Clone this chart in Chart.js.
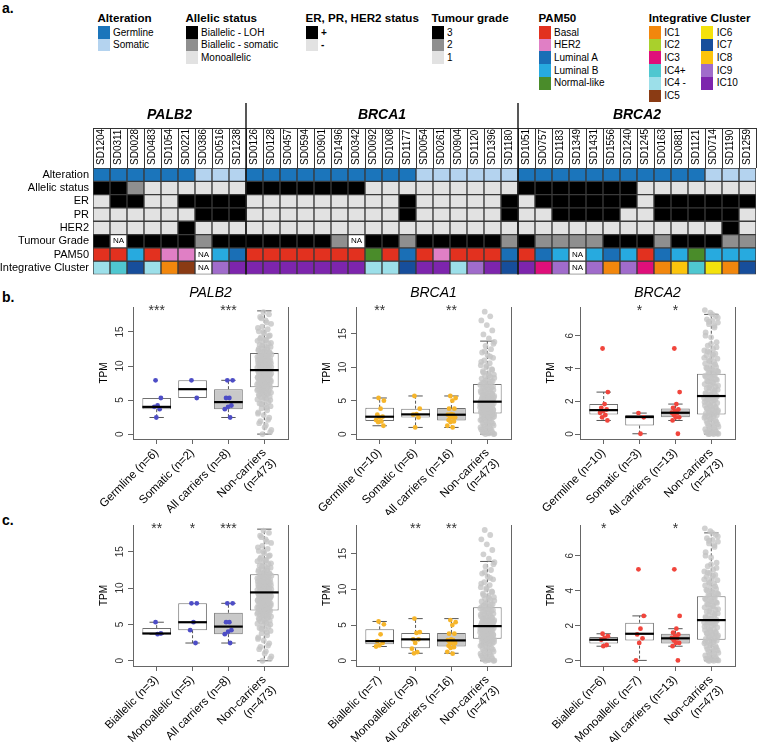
<!DOCTYPE html>
<html><head><meta charset="utf-8">
<script src="https://cdn.jsdelivr.net/npm/chart.js@4.4.1/dist/chart.umd.min.js"></script>
<style>
html,body{margin:0;padding:0;background:#fff}
#page{position:relative;width:758px;height:742px;overflow:hidden;font-family:"Liberation Sans",Arial,Helvetica,sans-serif;color:#000}
canvas{position:absolute}
.t{position:absolute;white-space:nowrap;line-height:1}
.sw{position:absolute}
</style></head><body><div id="page"></div>
<script>
// ================= DATA =================
// --- panel a: heatmap ---
const samples = ['SD1204','SD0311','SD0028','SD0483','SD1054','SD0221','SD0386','SD0516','SD1238',
  'SD0126','SD0128','SD0457','SD0594','SD0901','SD1496','SD0342','SD0092','SD1008','SD1177','SD0054','SD0261','SD0904','SD1120','SD1396','SD1180',
  'SD1051','SD0757','SD1183','SD1349','SD1431','SD1556','SD1240','SD1245','SD0163','SD0881','SD1121','SD0714','SD1190','SD1259'];
const geneGroups = ['PALB2','BRCA1','BRCA2'];
const groupSizes = [9,16,14];
const rowNames = ['Alteration','Allelic status','ER','PR','HER2','Tumour Grade','PAM50','Integrative Cluster'];
const alteration = ('GGGGGGSSS'+'GGGGGGGGGGSSSSSS'+'GGGGGGGGGGGSSS').split('');
const allelic    = ('LLSMMMMMM'+'LLLLLLLMMMMMMMMM'+'LLLLLLLMMMMMMM').split('');
const er         = ('-++--++++'+'---------+-----+'+'-++++++-++++++').split('');
const pr         = ('------+++'+'---------+-----+'+'--++++--+++++-').split('');
const her2       = ('-----+---'+'----------------'+'------------+-').split('');
const grade = ['3','NA','3','3','3','3','2','3','3',
  '3','3','3','3','3','2','NA','3','3','2','3','3','3','3','3','2',
  '3','2','2','2','2','3','3','3','2','3','3','3','2','2'];
const pam50 = ['Basal','Basal','LumB','Basal','HER2','HER2','NA','LumB','LumA',
  'Basal','Basal','Basal','Basal','Basal','Basal','Basal','Normal','Basal','LumA','Basal','HER2','Basal','Basal','Basal','LumA',
  'Basal','LumA','LumB','NA','LumB','LumA','LumB','Basal','LumA','LumB','Normal','LumB','LumB','LumB'];
const icluster = ['IC4-','IC4+','IC7','IC4-','IC1','IC5','NA','IC9','IC10',
  'IC10','IC10','IC10','IC10','IC10','IC10','IC10','IC4-','IC4-','IC7','IC10','IC10','IC4-','IC9','IC10','IC7',
  'IC10','IC3','IC9','NA','IC9','IC1','IC9','IC3','IC1','IC8','IC4+','IC6','IC1','IC7'];

// --- panels b/c: box plots ---
const yTicksLarge = [0,5,10,15];
const yTicksSmall = [0,2,4,6];
const yRangePALB2 = [-0.72,18.67];
const yRangeBRCA1 = [-0.73,19.0];
const yRangeBRCA2 = [-0.3,7.75];

const labelsB_PALB2 = ['Germline (n=6)','Somatic (n=2)','All carriers (n=8)',['Non-carriers','(n=473)']];
const labelsB_BRCA1 = ['Germline (n=10)','Somatic (n=6)','All carriers (n=16)',['Non-carriers','(n=473)']];
const labelsB_BRCA2 = ['Germline (n=10)','Somatic (n=3)','All carriers (n=13)',['Non-carriers','(n=473)']];
const labelsC_PALB2 = ['Biallelic (n=3)','Monoallelic (n=5)','All carriers (n=8)',['Non-carriers','(n=473)']];
const labelsC_BRCA1 = ['Biallelic (n=7)','Monoallelic (n=9)','All carriers (n=16)',['Non-carriers','(n=473)']];
const labelsC_BRCA2 = ['Biallelic (n=6)','Monoallelic (n=7)','All carriers (n=13)',['Non-carriers','(n=473)']];

const starsB_PALB2 = ['***','','***',''];
const starsB_BRCA1 = ['**','','**',''];
const starsB_BRCA2 = ['','*','*',''];
const starsC_PALB2 = ['**','*','***',''];
const starsC_BRCA1 = ['','**','**',''];
const starsC_BRCA2 = ['*','','*',''];

// carrier TPM values
const palb2Germline = [7.9,5.3,4.2,4.0,3.66,2.44];
const palb2Somatic = [7.9,5.3];
const palb2Biallelic = [5.3,3.75,3.66];
const palb2Monoallelic = [7.9,7.9,5.3,4.2,2.44];
const palb2All = [7.9,7.9,5.3,5.3,4.2,4.0,3.66,2.44];
const brca1Germline = [5.4,5.0,3.8,2.9,2.6,2.5,2.1,1.9,1.8,1.25];
const brca1Somatic = [5.7,3.8,3.0,2.9,2.5,1.0];
const brca1Biallelic = [5.5,5.1,3.7,2.75,2.5,2.15,2.0];
const brca1Monoallelic = [5.9,4.0,3.9,3.0,3.0,2.5,1.7,1.2,1.05];
const brca1All = [5.7,5.4,5.0,3.8,3.8,3.0,2.9,2.9,2.6,2.5,2.5,2.1,1.9,1.8,1.25,1.0];
const brca2Germline = [5.22,2.56,1.83,1.6,1.5,1.4,1.3,1.16,1.02,0.83];
const brca2Somatic = [1.28,1.02,0.02];
const brca2Biallelic = [1.54,1.4,1.3,1.2,0.9,0.83];
const brca2Monoallelic = [5.22,2.56,1.83,1.5,1.28,1.02,0.02];
const brca2All = [5.22,2.56,1.83,1.6,1.5,1.4,1.3,1.28,1.16,1.02,1.02,0.83,0.02];

// non-carrier TPM values (read from the point clouds)
const palb2NonCarriers = [0.0,0.6,1.3,1.9,2.4,2.8,3.2,3.5,3.8,4.1,4.3,4.5,4.7,4.9,5.1,5.2,5.4,5.5,5.7,5.8,5.9,6.0,6.1,6.2,6.3,6.4,6.5,6.6,6.7,6.8,6.85,6.9,7.0,7.1,7.2,7.3,7.4,7.45,7.5,7.6,7.7,7.8,7.85,7.9,8.0,8.1,8.2,8.25,8.3,8.4,8.5,8.55,8.6,8.7,8.8,8.85,8.9,9.0,9.05,9.1,9.2,9.25,9.3,9.35,9.4,9.45,9.5,9.6,9.7,9.75,9.8,9.9,10.0,10.1,10.2,10.25,10.3,10.4,10.5,10.6,10.7,10.8,10.9,11.0,11.1,11.2,11.3,11.4,11.5,11.6,11.7,11.8,11.9,12.0,12.1,12.3,12.4,12.6,12.8,12.9,13.1,13.3,13.5,13.7,13.9,14.2,14.5,14.8,15.1,15.4,15.8,16.2,16.7,17.2,17.6,17.9,
  3.0,3.9,4.4,5.0,5.35,5.65,6.05,6.25,6.45,6.75,6.95,7.05,7.15,7.25,7.35,7.55,7.65,7.75,7.95,8.05,8.15,8.35,8.45,8.65,8.75,8.95,9.15,9.55,9.65,9.85,9.95,10.05,10.15,10.35,10.45,10.55,10.65,10.75,10.85,10.95,11.05,11.25,11.35,11.55,11.75,11.95,12.2,12.5,12.7,13.0,13.4,13.8,14.0,14.4,15.0,15.6,16.4,17.0,0.3,1.0,1.6,2.1];
const brca1NonCarriers = [0.0,0.05,0.1,0.2,0.3,0.5,0.7,0.9,1.1,1.3,1.5,1.7,1.8,2.0,2.1,2.3,2.4,2.5,2.6,2.7,2.8,2.9,3.0,3.05,3.1,3.2,3.3,3.4,3.45,3.5,3.6,3.7,3.75,3.8,3.9,4.0,4.05,4.1,4.2,4.3,4.35,4.4,4.5,4.6,4.65,4.7,4.8,4.85,4.9,5.0,5.1,5.2,5.3,5.4,5.5,5.6,5.7,5.8,5.9,6.0,6.1,6.2,6.35,6.5,6.6,6.75,6.9,7.0,7.2,7.35,7.5,7.7,7.9,8.1,8.3,8.5,8.7,8.9,9.1,9.4,9.7,10.0,10.3,10.6,11.0,11.4,11.8,12.2,12.7,13.2,13.8,14.3,14.9,15.5,16.3,17.0,17.6,18.3,
  0.0,0.15,0.4,0.6,0.8,1.0,1.2,1.4,1.6,1.9,2.2,2.35,2.55,2.65,2.75,2.85,2.95,3.15,3.25,3.35,3.55,3.65,3.85,3.95,4.15,4.25,4.45,4.55,4.75,4.95,5.05,5.15,5.25,5.35,5.45,5.65,5.85,6.05,6.25,6.45,6.7,6.95,7.1,7.3,7.6,7.8,8.0,8.4,8.8,9.2,9.6,10.2,10.8,11.6,12.4,13.5];
const brca2NonCarriers = [0.0,0.02,0.05,0.1,0.15,0.2,0.3,0.4,0.5,0.6,0.7,0.8,0.85,0.9,1.0,1.05,1.1,1.15,1.2,1.25,1.3,1.4,1.45,1.5,1.55,1.6,1.7,1.75,1.8,1.85,1.9,2.0,2.05,2.1,2.15,2.2,2.25,2.3,2.35,2.4,2.5,2.55,2.6,2.7,2.75,2.8,2.9,3.0,3.05,3.1,3.2,3.3,3.4,3.5,3.6,3.7,3.8,3.9,4.0,4.1,4.2,4.3,4.4,4.5,4.6,4.7,4.8,4.9,5.0,5.1,5.2,5.4,5.6,5.9,6.2,6.5,6.7,6.8,6.9,7.0,7.2,7.4,7.56,
  0.0,0.01,0.03,0.08,0.12,0.25,0.35,0.45,0.55,0.65,0.75,0.95,1.08,1.18,1.28,1.35,1.48,1.58,1.65,1.78,1.95,2.08,2.18,2.28,2.38,2.45,2.65,2.85,2.95,3.15,3.25,3.35,3.45,3.55,3.65,3.75,3.85,3.95,4.05,4.25,4.45,4.65,4.85,5.05,5.3,5.5,6.0,6.6,6.85,7.1,7.3];

// box statistics [lower whisker, Q1, median, Q3, upper whisker]
const statsB_PALB2 = [[2.44,3.66,4.0,5.3,5.3],[5.3,5.3,6.6,7.9,7.9],[2.44,3.66,4.7,6.6,7.9],[0,6.9,9.4,11.9,18.1]];
const statsB_BRCA1 = [[1.25,1.95,2.6,3.95,5.4],[1.0,2.5,2.95,3.8,5.7],[1.0,2.05,2.9,3.9,5.7],[0,3.1,4.85,7.5,13.9]];
const statsB_BRCA2 = [[0.83,1.2,1.46,1.83,2.56],[0.02,0.52,1.04,1.16,1.28],[0.83,1.02,1.3,1.56,1.83],[0,1.2,2.32,3.68,7.3]];
const statsC_PALB2 = [[3.66,3.7,3.75,4.5,5.3],[2.44,4.2,5.3,7.9,7.9],[2.44,3.66,4.7,6.6,7.9],[0,6.9,9.4,11.9,18.1]];
const statsC_BRCA1 = [[2.0,2.3,2.75,4.4,5.5],[1.05,1.75,3.0,3.9,5.9],[1.05,2.0,2.85,3.9,5.9],[0,3.1,4.85,7.5,13.9]];
const statsC_BRCA2 = [[0.83,0.98,1.2,1.36,1.54],[0.02,1.15,1.54,2.17,2.56],[0.83,0.98,1.28,1.54,1.83],[0,1.2,2.32,3.68,7.3]];

// ================= STYLE / LAYOUT =================
const FONT = '"Liberation Sans", Arial, Helvetica, sans-serif';
Chart.defaults.font.family = FONT;
Chart.defaults.color = '#000';
const page = document.getElementById('page');

const colorMaps = [
  {G:'#1b75bb', S:'#b4d3ef'},
  {L:'#000000', S:'#8f8f8f', M:'#e2e2e2'},
  {'+':'#000000','-':'#e2e2e2'},
  {'+':'#000000','-':'#e2e2e2'},
  {'+':'#000000','-':'#e2e2e2'},
  {'3':'#000000','2':'#8f8f8f','1':'#e2e2e2', NA:'#ffffff'},
  {Basal:'#e2311f', HER2:'#e07fc5', LumA:'#1a6fb6', LumB:'#27aadf', Normal:'#4a8c2a', NA:'#ffffff'},
  {IC1:'#f2870d', IC2:'#a9d02c', IC3:'#df0f7a', 'IC4+':'#4fc7d0', 'IC4-':'#9cdfe9', IC5:'#8a3b14', IC6:'#f4e20c', IC7:'#174e9b', IC8:'#fcc40c', IC9:'#a06ccb', IC10:'#7d25ad', NA:'#ffffff'}
];
const hmRows = [alteration, allelic, er, pr, her2, grade, pam50, icluster];

function addText(txt, x, y, css){ const d=document.createElement('div'); d.className='t'; d.textContent=txt; d.style.left=x+'px'; d.style.top=y+'px'; Object.assign(d.style, css||{}); page.appendChild(d); return d; }
function addSw(x,y,w,h,c){ const d=document.createElement('div'); d.className='sw'; Object.assign(d.style,{left:x+'px',top:y+'px',width:w+'px',height:h+'px',background:c}); page.appendChild(d); }
function mkCanvas(x,y,w,h){ const c=document.createElement('canvas'); c.width=w; c.height=h; Object.assign(c.style,{left:x+'px',top:y+'px',width:w+'px',height:h+'px'}); page.appendChild(c); return c; }

// panel letters
addText('a.', 2, 1, {fontWeight:'bold', fontSize:'14px'});
addText('b.', 2, 290, {fontWeight:'bold', fontSize:'14px'});
addText('c.', 2, 513, {fontWeight:'bold', fontSize:'14px'});

// legend
const legendGroups = [
  {title:'Alteration', x:97.5, cols:[[['Germline',colorMaps[0].G],['Somatic',colorMaps[0].S]]]},
  {title:'Allelic status', x:185.5, cols:[[['Biallelic - LOH',colorMaps[1].L],['Biallelic - somatic',colorMaps[1].S],['Monoallelic',colorMaps[1].M]]]},
  {title:'ER, PR, HER2 status', x:305.5, cols:[[['+',colorMaps[2]['+']],['-',colorMaps[2]['-']]]]},
  {title:'Tumour grade', x:431.5, cols:[[['3',colorMaps[5]['3']],['2',colorMaps[5]['2']],['1',colorMaps[5]['1']]]]},
  {title:'PAM50', x:538.5, cols:[[['Basal',colorMaps[6].Basal],['HER2',colorMaps[6].HER2],['Luminal A',colorMaps[6].LumA],['Luminal B',colorMaps[6].LumB],['Normal-like',colorMaps[6].Normal]]]},
  {title:'Integrative Cluster', x:648.7, cols:[
    [['IC1',colorMaps[7].IC1],['IC2',colorMaps[7].IC2],['IC3',colorMaps[7].IC3],['IC4+',colorMaps[7]['IC4+']],['IC4 -',colorMaps[7]['IC4-']],['IC5',colorMaps[7].IC5]],
    [['IC6',colorMaps[7].IC6],['IC7',colorMaps[7].IC7],['IC8',colorMaps[7].IC8],['IC9',colorMaps[7].IC9],['IC10',colorMaps[7].IC10]]]}
];
legendGroups.forEach(g=>{
  addText(g.title, g.x, 12, {fontWeight:'bold', fontSize:'11.6px'});
  g.cols.forEach((col,ci)=>{
    const cx = g.x + ci*52.5;
    col.forEach((it,k)=>{
      const y = 26 + k*12.7;
      addSw(cx, y, 12, 12.8, it[1]);
      const isSign = (it[0]==='+'||it[0]==='-');
      addText(it[0], cx+15.5, y+1.6, {fontSize:'10px', fontWeight: isSign?'bold':'normal'});
    });
  });
});

// ================= HEATMAP =================
const hmDecor = {
  id:'hmDecor',
  afterDatasetsDraw(chart){
    const {ctx, chartArea:a, scales:{x,y}} = chart;
    ctx.save();
    ctx.font = '8px '+FONT; ctx.fillStyle='#000'; ctx.textAlign='center'; ctx.textBaseline='middle';
    hmRows.forEach((codes,r)=>codes.forEach((c,i)=>{
      if (c==='NA') ctx.fillText('NA', x.getPixelForValue(i), y.getPixelForValue(r+0.5));
    }));
    const half = (x.getPixelForValue(1)-x.getPixelForValue(0))/2;
    ctx.strokeStyle='#333'; ctx.lineWidth=1;
    ctx.beginPath(); ctx.moveTo(a.left, a.top-40+0.5); ctx.lineTo(a.right, a.top-40+0.5); ctx.stroke();
    let start = 0;
    groupSizes.forEach((n,g)=>{
      const l = x.getPixelForValue(start)-half, r = x.getPixelForValue(start+n-1)+half;
      ctx.font = 'bold italic 14px '+FONT; ctx.fillStyle='#000';
      ctx.fillText(geneGroups[g], (l+r)/2, a.top-53);
      if (g < groupSizes.length-1){
        ctx.strokeStyle='#111'; ctx.lineWidth=1.4;
        ctx.beginPath(); ctx.moveTo(r, a.top-65); ctx.lineTo(r, a.bottom); ctx.stroke();
      }
      start += n;
    });
    ctx.restore();
  }
};
(function(){
  const cv = mkCanvas(0, 98, 758, 182);
  new Chart(cv, {
    type:'bar',
    data:{labels:samples, datasets: hmRows.map((codes,r)=>({
      data: codes.map(()=>[r, r+1]),
      backgroundColor: codes.map(c=>colorMaps[r][c]),
      borderColor:'#3a3a3a', borderWidth:1, borderSkipped:false,
      grouped:false, barPercentage:1, categoryPercentage:1
    }))},
    options:{
      responsive:false, animation:false, devicePixelRatio:1, events:[],
      plugins:{legend:{display:false}, tooltip:{enabled:false}},
      layout:{padding:{top:30, right:2, bottom:5.5, left:0}},
      scales:{
        x:{position:'top', offset:true,
           grid:{offset:true, drawOnChartArea:false, tickLength:40, color:'#333', lineWidth:1},
           border:{display:false},
           ticks:{minRotation:90, maxRotation:90, autoSkip:false, padding:-37, labelOffset:12, font:{size:10}, color:'#000'},
           afterFit(s){ s.height=40; s.paddingLeft=0; s.paddingRight=0; }},
        y:{min:0, max:8, reverse:true,
           afterBuildTicks(s){ s.ticks = rowNames.map((_,i)=>({value:i+0.5})); },
           ticks:{callback:(v,i)=>rowNames[i], autoSkip:false, font:{size:11}, color:'#000', padding:4},
           grid:{display:false, drawTicks:false}, border:{display:false},
           afterFit(s){ s.width=93; s.paddingTop=0; s.paddingBottom=0; }}
      }
    },
    plugins:[hmDecor]
  });
})();

// ================= BOX PLOTS =================
function jit(k, amp){ const f = (k*0.6180339887 + 0.37) % 1; return (f-0.5)*2*amp; }

const colGeom = [{L:133,R:288},{L:356,R:511},{L:580,R:735}];
const rowGeom = [{CT:283, T:307, B:439, CB:515},{CT:500, T:525, B:666, CB:742}];

function boxPanel(row, col, title, labels, groups, stats, stars, color, range, yTicks){
  const g = colGeom[col], r = rowGeom[row];
  const cl = g.L-75, cw = g.R-cl+8;
  const cv = mkCanvas(cl, r.CT, cw, r.CB-r.CT);
  const xH = r.CB - r.B;
  const ds = [];
  ds.push({type:'bar', data: stats.map((s,i)=>({x:i+1, y:[s[1],s[3]]})),
    backgroundColor: stats.map((s,i)=> i===2 ? '#c9c9c9' : '#ffffff'),
    borderColor:'#707070', borderWidth:1, borderSkipped:false,
    barPercentage:0.8, categoryPercentage:1, order:10});
  const seg = (pts, dash, order, w, c)=>ds.push({type:'line', data:pts, borderColor:c, borderWidth:w, borderDash:dash, pointRadius:0, fill:false, order});
  stats.forEach((s,i)=>{
    const x = i+1;
    if (s[4] > s[3]) {
      seg([{x, y:s[3]},{x, y:s[4]}], [3,2], 8, 1, '#555');
      seg([{x:x-0.2, y:s[4]},{x:x+0.2, y:s[4]}], [], 8, 1, '#555');
    }
    if (s[0] < s[1]) {
      seg([{x, y:s[1]},{x, y:s[0]}], [3,2], 8, 1, '#555');
      seg([{x:x-0.2, y:s[0]},{x:x+0.2, y:s[0]}], [], 8, 1, '#555');
    }
  });
  groups.forEach((vals,i)=>{
    const non = (i===3);
    ds.push({type:'scatter', data: vals.map((v,k)=>({x:i+1+jit(k, non?0.2:0.12), y:v})),
      backgroundColor: non ? 'rgba(196,196,196,0.78)' : color, borderWidth:0,
      pointRadius: non ? 2.9 : 2.4, order: non ? 6 : 3});
  });
  stats.forEach((s,i)=>{
    const x = i+1;
    seg([{x:x-0.4, y:s[2]},{x:x+0.4, y:s[2]}], [], 1, 2.2, '#000');
  });
  const deco = {
    id:'deco'+row+col,
    afterDraw(chart){
      const {ctx, chartArea:a, scales:{x}} = chart;
      ctx.save(); ctx.textAlign='center'; ctx.textBaseline='middle';
      if (title){ ctx.font='italic 14px '+FONT; ctx.fillStyle='#000'; ctx.fillText(title, (a.left+a.right)/2, a.top-14); }
      ctx.font='14px '+FONT; ctx.fillStyle='#333';
      stars.forEach((s,i)=>{ if (s) ctx.fillText(s, x.getPixelForValue(i+1), a.top+4); });
      ctx.restore();
    }
  };
  new Chart(cv, {
    type:'bar',
    data:{datasets:ds},
    options:{
      responsive:false, animation:false, devicePixelRatio:1, events:[],
      plugins:{legend:{display:false}, tooltip:{enabled:false}},
      layout:{padding:{top:r.T-r.CT, right:8, bottom:0, left:0}},
      scales:{
        x:{type:'linear', min:0.34, max:4.66, offset:false,
           afterBuildTicks(s){ s.ticks = labels.map((_,i)=>({value:i+1})); },
           ticks:{callback:(v,i)=>labels[i], minRotation:45, maxRotation:45, autoSkip:false, padding:2, font:{size:11.6}, color:'#000'},
           grid:{drawOnChartArea:false, offset:false, tickLength:5, color:'#666'},
           border:{display:true, color:'#666'},
           afterFit(s){ s.height=xH; s.paddingLeft=0; s.paddingRight=0; }},
        y:{type:'linear', min:range[0], max:range[1],
           afterBuildTicks(s){ s.ticks = yTicks.map(v=>({value:v})); },
           ticks:{minRotation:90, maxRotation:90, crossAlign:'center', padding:2, font:{size:10}, color:'#333'},
           grid:{drawOnChartArea:false, tickLength:5, color:'#666'},
           border:{display:true, color:'#666'},
           title:{display:true, text:'TPM', font:{size:10}, color:'#000', padding:{top:40, bottom:0}},
           afterFit(s){ s.width=75; s.paddingTop=0; s.paddingBottom=0; }},
        y2:{type:'linear', position:'right', display:true, min:range[0], max:range[1],
           ticks:{display:false}, grid:{display:false, drawTicks:false},
           border:{display:true, color:'#666'},
           afterFit(s){ s.width=0; s.paddingTop=0; s.paddingBottom=0; }}
      }
    },
    plugins:[deco]
  });
}

const PAL = '#4d4dc6', BR1 = '#f6b52a', BR2 = '#f1453c';
boxPanel(0,0,'PALB2',labelsB_PALB2,[palb2Germline,palb2Somatic,palb2All,palb2NonCarriers],statsB_PALB2,starsB_PALB2,PAL,yRangePALB2,yTicksLarge);
boxPanel(0,1,'BRCA1',labelsB_BRCA1,[brca1Germline,brca1Somatic,brca1All,brca1NonCarriers],statsB_BRCA1,starsB_BRCA1,BR1,yRangeBRCA1,yTicksLarge);
boxPanel(0,2,'BRCA2',labelsB_BRCA2,[brca2Germline,brca2Somatic,brca2All,brca2NonCarriers],statsB_BRCA2,starsB_BRCA2,BR2,yRangeBRCA2,yTicksSmall);
boxPanel(1,0,'',labelsC_PALB2,[palb2Biallelic,palb2Monoallelic,palb2All,palb2NonCarriers],statsC_PALB2,starsC_PALB2,PAL,yRangePALB2,yTicksLarge);
boxPanel(1,1,'',labelsC_BRCA1,[brca1Biallelic,brca1Monoallelic,brca1All,brca1NonCarriers],statsC_BRCA1,starsC_BRCA1,BR1,yRangeBRCA1,yTicksLarge);
boxPanel(1,2,'',labelsC_BRCA2,[brca2Biallelic,brca2Monoallelic,brca2All,brca2NonCarriers],statsC_BRCA2,starsC_BRCA2,BR2,yRangeBRCA2,yTicksSmall);
</script></body></html>
